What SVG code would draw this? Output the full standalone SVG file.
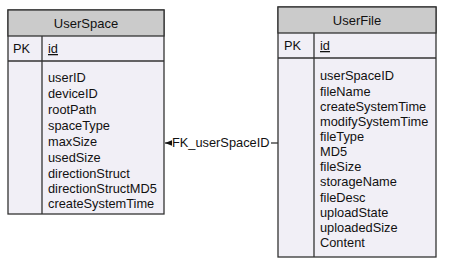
<svg xmlns="http://www.w3.org/2000/svg" width="449" height="274" viewBox="0 0 449 274">
<defs>
<style>
.hdr{fill:#cbcbcb;stroke:#333;stroke-width:1.3}
.bdy{fill:#f1eff6;stroke:#333;stroke-width:1.3}
.ln{stroke:#333;stroke-width:1.3;fill:none}
text{font-family:"Liberation Sans",Arial,sans-serif;font-size:12.8px;fill:#111}
.t{font-size:13px;text-anchor:middle}
.u{text-decoration:underline}
</style>
<marker id="arr" viewBox="0 0 10 10" refX="10" refY="5" markerWidth="7" markerHeight="7" orient="auto-start-reverse" markerUnits="userSpaceOnUse">
<path d="M0,1 L10,5 L0,9 z" fill="#111"/>
</marker>
</defs>
<rect width="449" height="274" fill="#fff"/>
<g id="UserSpace">
<rect class="bdy" x="8" y="10" width="156" height="204"/>
<rect class="hdr" x="8" y="10" width="156" height="26"/>
<line class="ln" x1="8" y1="61" x2="164" y2="61"/>
<line class="ln" x1="42" y1="36" x2="42" y2="214"/>
<text class="t" x="86" y="28">UserSpace</text>
<text x="13" y="53">PK</text>
<text class="u" x="48" y="53">id</text>
<text x="48" y="82">userID</text>
<text x="48" y="98">deviceID</text>
<text x="48" y="114">rootPath</text>
<text x="48" y="130">spaceType</text>
<text x="48" y="146">maxSize</text>
<text x="48" y="162">usedSize</text>
<text x="48" y="178">directionStruct</text>
<text x="48" y="193">directionStructMD5</text>
<text x="48" y="208">createSystemTime</text>
</g>
<g id="UserFile">
<rect class="bdy" x="278" y="7" width="158" height="250"/>
<rect class="hdr" x="278" y="7" width="158" height="26"/>
<line class="ln" x1="278" y1="58" x2="436" y2="58"/>
<line class="ln" x1="314" y1="33" x2="314" y2="257"/>
<text class="t" x="357" y="25">UserFile</text>
<text x="284" y="50">PK</text>
<text class="u" x="320" y="50">id</text>
<text x="320" y="80">userSpaceID</text>
<text x="320" y="96">fileName</text>
<text x="320" y="111">createSystemTime</text>
<text x="320" y="126">modifySystemTime</text>
<text x="320" y="141">fileType</text>
<text x="320" y="156">MD5</text>
<text x="320" y="171">fileSize</text>
<text x="320" y="186">storageName</text>
<text x="320" y="202">fileDesc</text>
<text x="320" y="217">uploadState</text>
<text x="320" y="232">uploadedSize</text>
<text x="320" y="247">Content</text>
</g>
<g id="connectors">
<line class="ln" x1="278" y1="143" x2="271" y2="143"/>
<line class="ln" x1="172" y1="143" x2="165" y2="143" marker-end="url(#arr)"/>
<text x="172" y="147">FK_userSpaceID</text>
</g>
</svg>
